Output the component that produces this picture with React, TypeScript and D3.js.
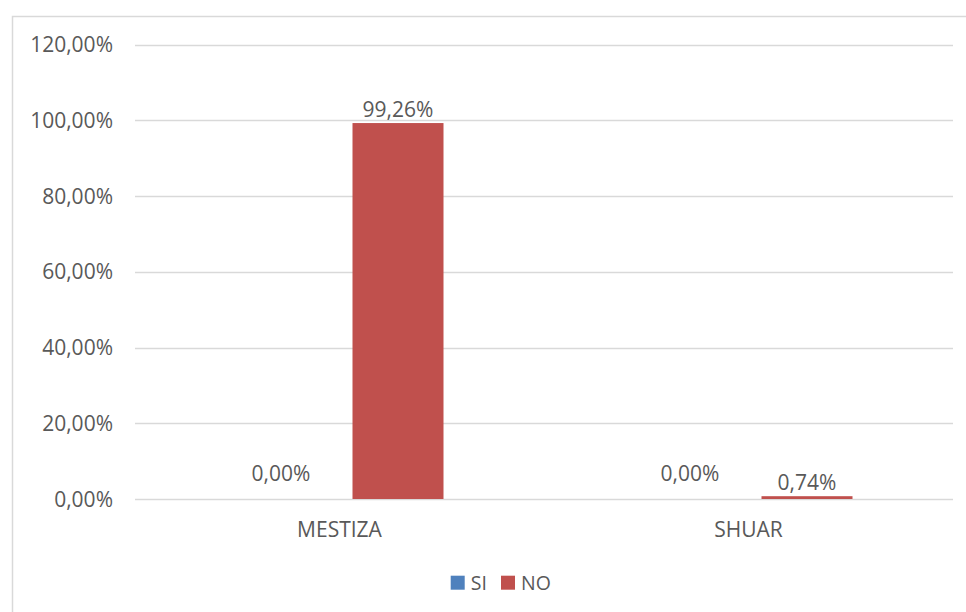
import React from "react";
import * as d3 from "d3";

const categories = ["MESTIZA", "SHUAR"];
const seriesNames = ["SI", "NO"];
const siValues = [0, 0];
const noValues = [99.26, 0.74];
const yTicks = [0, 20, 40, 60, 80, 100, 120];
const colors = ["#4F81BD", "#C0504D"];

const W = 966;
const H = 612;
const fmt = (v: number) => v.toFixed(2).replace(".", ",") + "%";

export default function App() {
  const left = 135, right = 953, top = 44.5, bottom = 499;
  const x = d3.scaleBand<string>().domain(categories).range([left, right]).padding(0);
  const y = d3.scaleLinear().domain([0, 120]).range([bottom, top]);
  const barW = 91;
  const offsets = [-58.5, 58.5];
  const series = [siValues, noValues];
  const font = "'Open Sans', sans-serif";
  const textColor = "#595959";
  const fs = 21;

  return (
    <svg width={W} height={H} style={{ position: "absolute", left: 0, top: 0 }}>
      <rect x={0} y={0} width={W} height={H} fill="#fff" />
      <rect x={12.5} y={16.5} width={W} height={H} fill="#fff" stroke="#D9D9D9" strokeWidth={1.5} />
      {yTicks.map((t) => (
        <g key={t}>
          <line x1={left} x2={right} y1={Math.round(y(t)) + 0.5} y2={Math.round(y(t)) + 0.5} stroke="#D9D9D9" strokeWidth={1.3} />
          <text x={113} y={y(t) + 7.5} textAnchor="end" fontFamily={font} fontSize={fs} fill={textColor}>
            {fmt(t)}
          </text>
        </g>
      ))}
      {series.map((vals, si) =>
        categories.map((c, ci) => {
          const cx = x(c)! + x.bandwidth() / 2 + offsets[si];
          const v = vals[ci];
          const yTop = y(v);
          return (
            <g key={`${si}-${ci}`}>
              {v > 0 && (
                <rect x={cx - barW / 2} y={yTop} width={barW} height={bottom - yTop} fill={colors[si]} />
              )}
              <text
                x={cx}
                y={v > 0 ? yTop - 6.5 : bottom - 18}
                textAnchor="middle"
                fontFamily={font}
                fontSize={fs}
                fill={textColor}
              >
                {fmt(v)}
              </text>
            </g>
          );
        })
      )}
      {categories.map((c) => (
        <text key={c} x={x(c)! + x.bandwidth() / 2} y={537} textAnchor="middle" fontFamily={font} fontSize={fs} fill={textColor}>
          {c}
        </text>
      ))}
      {seriesNames.map((s, i) => {
        const lx = [450.7, 501][i];
        return (
          <g key={s}>
            <rect x={lx} y={575.7} width={14} height={14} fill={colors[i]} />
            <text x={lx + 20} y={589.7} fontFamily={font} fontSize={19.5} fill={textColor}>
              {s}
            </text>
          </g>
        );
      })}
    </svg>
  );
}
